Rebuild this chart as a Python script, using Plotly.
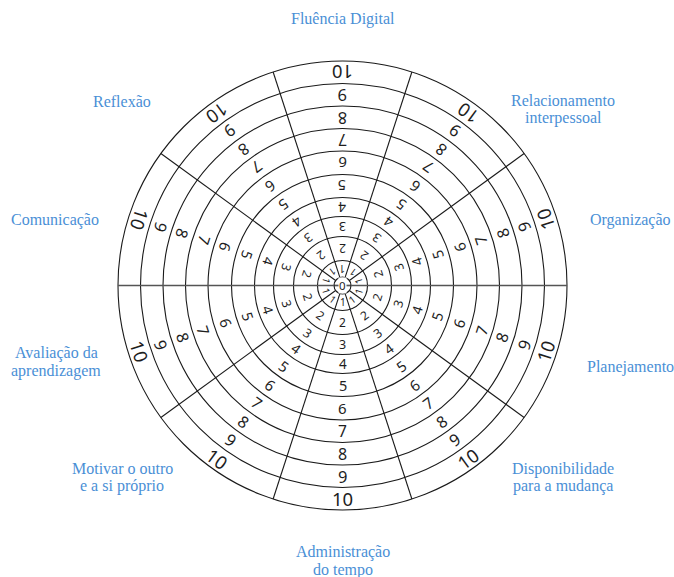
import math
import plotly.graph_objects as go

# ---------------- data ----------------
# competences, clockwise from the top sector
categories = [
    "Fluência Digital",
    "Relacionamento\ninterpessoal",
    "Organização",
    "Planejamento",
    "Disponibilidade\npara a mudança",
    "Administração\ndo tempo",
    "Motivar o outro\ne a si próprio",
    "Avaliação da\naprendizagem",
    "Comunicação",
    "Reflexão",
]
ring_values = [0, 1, 2, 3, 4, 5, 6, 7, 8, 9, 10]
ring_labels = [str(v) for v in ring_values]

# ---------------- layout / style ----------------
W, H = 674, 577
CX, CY = 342.5, 285.5          # wheel centre in pixels
RING_R = {0: 8.5, 1: 25, 2: 49, 3: 69, 4: 88, 5: 111, 6: 134.5,
          7: 157, 8: 179.5, 9: 202, 10: 224.5}
DIGIT_SIZE = {0: 11.5, 1: 10, 2: 12, 3: 12.5, 4: 13.5, 5: 14.5, 6: 15,
              7: 15.5, 8: 16, 9: 16.5, 10: 18.5}
LINE_COLOR = "#1a1a1a"
LABEL_COLOR = "#4a8fd6"
DIGIT_COLOR = "#1e1e1e"
LABEL_FONT = "Liberation Serif"
DIGIT_FONT = "Noto Sans"
# label anchors (pixel centre of first line) for each category
LABEL_ANCHOR = [
    (343, 19), (563, 100.5), (630, 220), (630, 367), (563, 468.5),
    (343, 552), (122, 468.5), (56, 353), (55, 220), (122, 101),
]
LINE_GAP = 17.5

n = len(categories)
sector = 360.0 / n
# math angle (deg, ccw from +x) of each sector centre, clockwise from top
centers = [90 - i * sector for i in range(n)]
dividers = [c + sector / 2 for c in centers]

fig = go.Figure()

# concentric circles
for v in ring_values:
    r = RING_R[v]
    fig.add_shape(type="circle", xref="x", yref="y",
                  x0=-r, x1=r, y0=-r, y1=r,
                  line=dict(color=LINE_COLOR, width=1.1))

# radial dividers
r_in, r_out = RING_R[ring_values[0]], RING_R[ring_values[-1]]
for d in dividers:
    a = math.radians(d)
    horiz = abs(math.sin(a)) < 1e-6
    fig.add_shape(type="line", xref="x", yref="y",
                  x0=r_in * math.cos(a), y0=r_in * math.sin(a),
                  x1=r_out * math.cos(a), y1=r_out * math.sin(a),
                  line=dict(color="#555555" if horiz else LINE_COLOR,
                            width=1.7 if horiz else 1.1))
# horizontal line across the centre circle
fig.add_shape(type="line", xref="x", yref="y", x0=-r_in, x1=r_in, y0=0, y1=0,
              line=dict(color="#555555", width=1.7), layer="below")

annotations = []
# centre value
annotations.append(dict(x=0, y=0, xref="x", yref="y", text=ring_labels[0],
                        showarrow=False, xanchor="center", yanchor="middle",
                        bgcolor="white", borderpad=0,
                        font=dict(family=DIGIT_FONT, size=DIGIT_SIZE[0],
                                  color=DIGIT_COLOR)))
# ring values in every sector
for c in centers:
    a = math.radians(c)
    ang = (270 - c) % 360
    if ang > 180:
        ang -= 360
    for k in range(1, len(ring_values)):
        v = ring_values[k]
        rm = (RING_R[ring_values[k - 1]] + RING_R[v]) / 2
        annotations.append(dict(
            x=rm * math.cos(a), y=rm * math.sin(a), xref="x", yref="y",
            text=ring_labels[k], showarrow=False, textangle=ang,
            xanchor="center", yanchor="middle",
            font=dict(family=DIGIT_FONT, size=DIGIT_SIZE[v], color=DIGIT_COLOR)))

# category labels
for name, (px, py) in zip(categories, LABEL_ANCHOR):
    for j, line in enumerate(name.split("\n")):
        annotations.append(dict(
            x=px - CX, y=CY - (py + j * LINE_GAP), xref="x", yref="y",
            text=line, showarrow=False, xanchor="center", yanchor="middle",
            font=dict(family=LABEL_FONT, size=16, color=LABEL_COLOR)))

fig.update_layout(
    width=W, height=H, margin=dict(l=0, r=0, t=0, b=0),
    paper_bgcolor="white", plot_bgcolor="white",
    showlegend=False, annotations=annotations,
    xaxis=dict(range=[-CX, W - CX], visible=False, fixedrange=True),
    yaxis=dict(range=[CY - H, CY], visible=False, fixedrange=True),
)
fig.write_html("out.html", config={"displayModeBar": False},
               post_script="document.body.style.margin='0';"
                           "document.body.style.overflow='hidden';")
